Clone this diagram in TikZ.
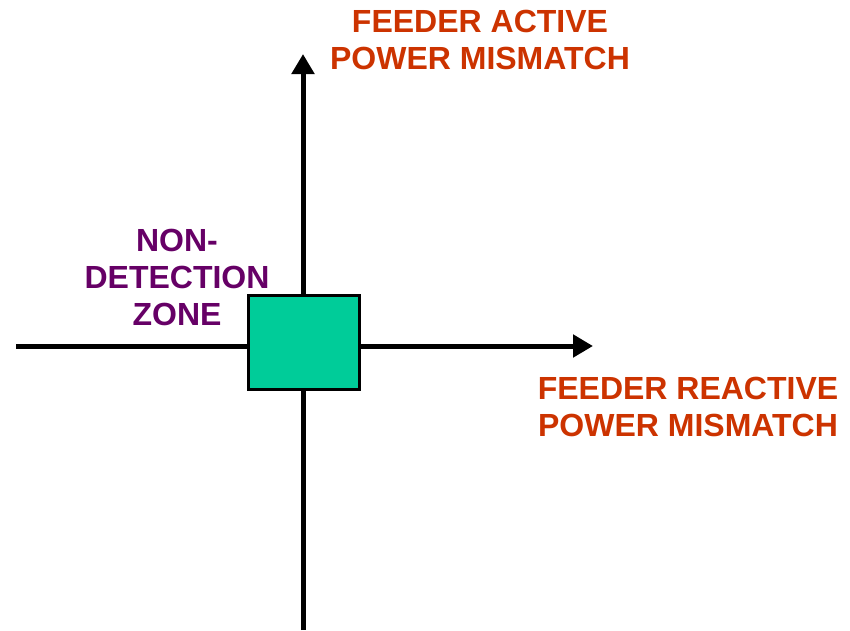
\documentclass[tikz,border=0pt]{standalone}
\usepackage{fontspec}
\setmainfont{Liberation Sans}
\usetikzlibrary{arrows.meta}
\definecolor{axlab}{HTML}{CC3300}
\definecolor{ndz}{HTML}{660066}
\definecolor{zonefill}{HTML}{00CC99}
\tikzset{
  axis/.style={line width=5pt, -{Triangle[length=20pt,width=22pt]}},
  lab/.style={align=center, font=\fontsize{32}{37}\selectfont\bfseries, inner sep=0pt},
}
\begin{document}
\begin{tikzpicture}[x=1pt,y=-1pt]
\useasboundingbox (0,0) rectangle (850,630);
\coordinate (vb) at (303,630);
\coordinate (vt) at (303,54);
\coordinate (hl) at (16,346);
\coordinate (hr) at (593,346);
\draw[axis] (vb) -- (vt);
\draw[axis] (hl) -- (hr);
\node[draw=black, line width=3pt, fill=zonefill, minimum width=111pt, minimum height=94pt, inner sep=0pt] (box) at (304,342.5) {};
\node[lab, text=axlab] (ylab) at (480,40) {FEEDER ACTIVE\\POWER MISMATCH};
\node[lab, text=axlab] (xlab) at (688,407) {FEEDER REACTIVE\\POWER MISMATCH};
\node[lab, text=ndz] (zlab) at (177,277) {NON-\\DETECTION\\ZONE};
\end{tikzpicture}
\end{document}
